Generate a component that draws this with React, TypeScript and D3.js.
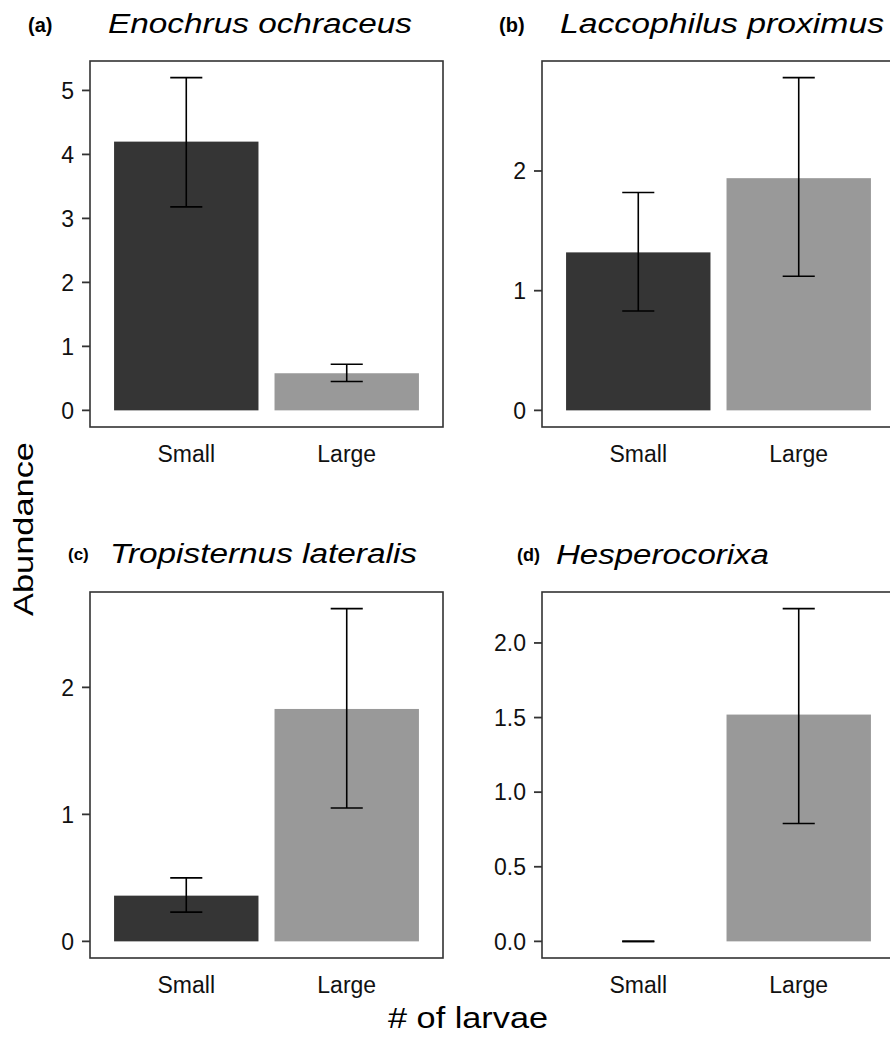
import React from "react";
import * as d3 from "d3";

const categories = ["Small", "Large"];
const panelLabels = ["(a)", "(b)", "(c)", "(d)"];
const speciesNames = ["Enochrus ochraceus", "Laccophilus proximus", "Tropisternus lateralis", "Hesperocorixa"];
const meanSmall = [4.2, 1.32, 0.36, 0];
const meanLarge = [0.58, 1.94, 1.83, 1.52];
const lowerSmall = [3.18, 0.83, 0.23, 0];
const upperSmall = [5.2, 1.82, 0.5, 0];
const lowerLarge = [0.45, 1.12, 1.05, 0.79];
const upperLarge = [0.72, 2.78, 2.62, 2.23];
const yTicks = [
  [0, 1, 2, 3, 4, 5],
  [0, 1, 2],
  [0, 1, 2],
  [0, 0.5, 1.0, 1.5, 2.0],
];
const tickDecimals = [0, 0, 0, 1];
const yTitle = "Abundance";
const xTitle = "# of larvae";

const W = 890;
const H = 1040;
const FONT = "'Liberation Sans', Arial, Helvetica, sans-serif";
const barColors = ["#353535", "#999999"];

const frames = [
  { x0: 90, x1: 443, y0: 61, y1: 427, titleY: 33, labelX: 28, labelY: 32, titleX: 108, titleLen: 304, labelSize: 20 },
  { x0: 542, x1: 895, y0: 61, y1: 427, titleY: 33, labelX: 499, labelY: 32, titleX: 560, titleLen: 324, labelSize: 20 },
  { x0: 90, x1: 443, y0: 592, y1: 958, titleY: 563, labelX: 68, labelY: 560, titleX: 110, titleLen: 307, labelSize: 17 },
  { x0: 542, x1: 895, y0: 592, y1: 958, titleY: 564, labelX: 517, labelY: 561, titleX: 556, titleLen: 213, labelSize: 18 },
];

function Panel({ i }: { i: number }) {
  const f = frames[i];
  const maxV = d3.max([upperSmall[i], upperLarge[i], meanSmall[i], meanLarge[i]]) as number;
  const y = d3
    .scaleLinear()
    .domain([-0.05 * maxV, 1.05 * maxV])
    .range([f.y1, f.y0]);
  // ggplot-like discrete axis: unit = width/2.2, bars 0.9 unit, centres at 0.6 & 1.6 units from left
  const unit = (f.x1 - f.x0) / 2.2;
  const xc = d3.scalePoint().domain(categories).range([f.x0 + 0.6 * unit, f.x0 + 1.6 * unit]);
  const bw = 0.9 * unit;
  const capW = 0.2 * unit;
  const means = [meanSmall[i], meanLarge[i]];
  const lows = [lowerSmall[i], lowerLarge[i]];
  const ups = [upperSmall[i], upperLarge[i]];
  const fmt = d3.format(`.${tickDecimals[i]}f`);
  return (
    <g>
      <text x={f.labelX} y={f.labelY} fontFamily={FONT} fontWeight="bold" fontSize={f.labelSize} fill="#000">
        {panelLabels[i]}
      </text>
      <text
        x={f.titleX}
        y={f.titleY}
        fontFamily={FONT}
        fontStyle="italic"
        fontSize={27}
        fill="#000"
        textLength={f.titleLen}
        lengthAdjust="spacingAndGlyphs"
      >
        {speciesNames[i]}
      </text>
      {categories.map((c, k) => {
        const cx = xc(c) as number;
        return (
          <rect
            key={"b" + c}
            x={cx - bw / 2}
            width={bw}
            y={Math.min(y(means[k]), y(0))}
            height={Math.abs(y(0) - y(means[k]))}
            fill={barColors[k]}
          />
        );
      })}
      {categories.map((c, k) => {
        const cx = xc(c) as number;
        return (
          <g key={"e" + c} stroke="#000" strokeWidth={1.6} fill="none">
            <line x1={cx} x2={cx} y1={y(lows[k])} y2={y(ups[k])} />
            <line x1={cx - capW / 2} x2={cx + capW / 2} y1={y(lows[k])} y2={y(lows[k])} />
            <line x1={cx - capW / 2} x2={cx + capW / 2} y1={y(ups[k])} y2={y(ups[k])} />
          </g>
        );
      })}
      <rect x={f.x0} y={f.y0} width={f.x1 - f.x0} height={f.y1 - f.y0} fill="none" stroke="#333" strokeWidth={1.6} />
      {yTicks[i].map((t) => (
        <g key={"t" + t}>
          <line x1={f.x0 - 8} x2={f.x0} y1={y(t)} y2={y(t)} stroke="#333" strokeWidth={1.8} />
          <text
            x={f.x0 - 16}
            y={y(t)}
            dy="0.36em"
            textAnchor="end"
            fontFamily={FONT}
            fontSize={23}
            fill="#111"
          >
            {fmt(t)}
          </text>
        </g>
      ))}
      {categories.map((c) => (
        <text
          key={"x" + c}
          x={xc(c) as number}
          y={f.y1 + 35}
          textAnchor="middle"
          fontFamily={FONT}
          fontSize={23}
          fill="#111"
        >
          {c}
        </text>
      ))}
    </g>
  );
}

export default function App() {
  return (
    <svg
      width={W}
      height={H}
      viewBox={`0 0 ${W} ${H}`}
      style={{ position: "absolute", left: 0, top: 0, background: "#fff" }}
    >
      <rect x={0} y={0} width={W} height={H} fill="#fff" />
      {[0, 1, 2, 3].map((i) => (
        <Panel key={i} i={i} />
      ))}
      <text
        transform={`translate(33,529) rotate(-90)`}
        textAnchor="middle"
        fontFamily={FONT}
        fontSize={27}
        fill="#000"
        textLength={174}
        lengthAdjust="spacingAndGlyphs"
      >
        {yTitle}
      </text>
      <text
        x={468}
        y={1028}
        textAnchor="middle"
        fontFamily={FONT}
        fontSize={29}
        fill="#000"
        textLength={160}
        lengthAdjust="spacingAndGlyphs"
      >
        {xTitle}
      </text>
    </svg>
  );
}
